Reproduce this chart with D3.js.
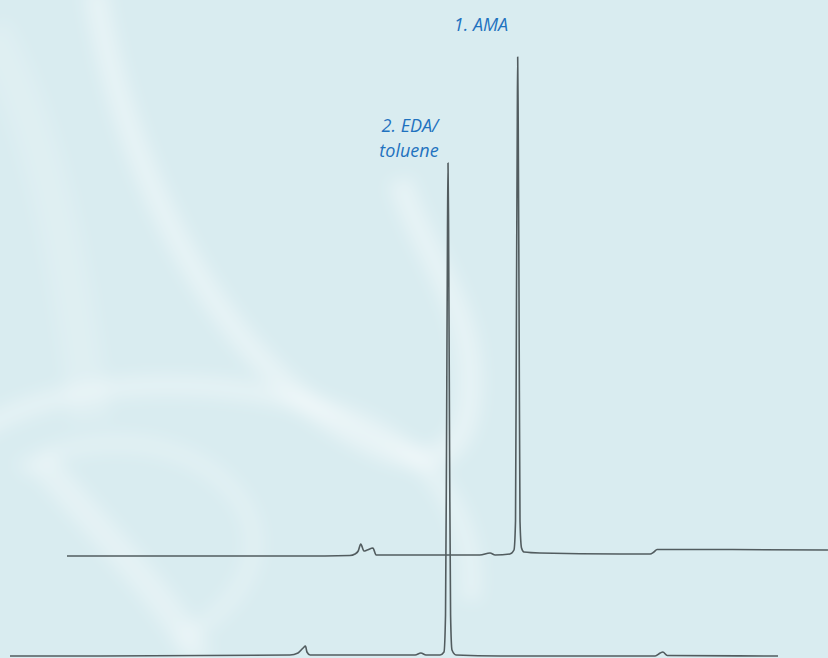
<!DOCTYPE html>
<html>
<head>
<meta charset="utf-8">
<script src="https://cdn.jsdelivr.net/npm/d3@7"></script>
<style>
  body { margin: 0; padding: 0; background: #d9ecf0; overflow: hidden; }
  .peak-label { font-family: "Open Sans", "Noto Sans", sans-serif; font-style: italic; font-size: 18px; fill: #1f72bf; }
</style>
</head>
<body>
<div id="chromatogram"></div>
<script>
// retention time (min) and signal for trace 1 (upper, AMA)
var time1 = [0.00, 3.64, 4.42, 4.50, 4.55, 4.59, 4.64, 4.69, 4.78, 4.83, 6.45, 6.61, 6.69, 6.92,
             6.984, 7.008, 7.023, 7.036, 7.042, 7.050, 7.063, 7.078, 7.102, 7.14, 7.39, 8.64, 9.11,
             9.17, 9.22, 9.89, 11.89];
var signal1 = [0, 0, 0.1, 0.4, 1.0, 2.4, 1.0, 1.2, 1.6, 0.2, 0.2, 0.6, 0.2, 0.4,
               1.2, 7, 51, 87, 99.8, 87, 51, 7, 1.6, 0.8, 0.6, 0.4, 0.4,
               0.8, 1.3, 1.3, 1.2];

// retention time (min) and signal for trace 2 (lower, EDA/toluene)
var time2 = [0.00, 1.41, 4.375, 4.50, 4.58, 4.617, 4.64, 4.69, 6.33, 6.42, 6.50, 6.72,
             6.781, 6.805, 6.820, 6.836, 6.844, 6.853, 6.869, 6.884, 6.906, 6.97, 7.66,
             10.08, 10.16, 10.20, 10.27, 12.0];
var signal2 = [-0.2, -0.2, 0, 0.4, 1.4, 1.8, 0.6, 0, 0, 0.4, 0, 0,
               0.6, 8, 40, 85, 98.4, 85, 40, 8, 1, 0, -0.2,
               -0.2, 0.4, 0.6, -0.1, -0.2];

// peak labels
var peakNames = ["1. AMA", "2. EDA/", "toluene"];

var width = 828, height = 658;

var svg = d3.select("#chromatogram")
  .append("svg")
    .attr("width", width)
    .attr("height", height);

// soft background with light swooshes
var defs = svg.append("defs");
defs.append("filter")
    .attr("id", "blur")
    .attr("x", "-20%").attr("y", "-20%")
    .attr("width", "140%").attr("height", "140%")
  .append("feGaussianBlur")
    .attr("stdDeviation", 8);

svg.append("rect")
    .attr("width", width)
    .attr("height", height)
    .attr("fill", "#d9ecf0");

var swoosh = svg.append("g").attr("filter", "url(#blur)").attr("fill", "none");
swoosh.append("path")
    .attr("d", "M95,-10 C120,150 200,330 330,420 C420,480 470,470 470,380 C470,300 420,250 400,180")
    .attr("stroke", "#ffffff").attr("stroke-opacity", 0.35).attr("stroke-width", 24);
swoosh.append("path")
    .attr("d", "M-20,430 C60,380 200,370 330,410 C430,440 480,520 470,600")
    .attr("stroke", "#ffffff").attr("stroke-opacity", 0.3).attr("stroke-width", 20);
swoosh.append("path")
    .attr("d", "M40,460 C90,520 170,600 200,660")
    .attr("stroke", "#ffffff").attr("stroke-opacity", 0.3).attr("stroke-width", 28);
swoosh.append("path")
    .attr("d", "M20,470 C80,430 190,430 240,500 C270,545 250,600 180,640")
    .attr("stroke", "#ffffff").attr("stroke-opacity", 0.22).attr("stroke-width", 18);
swoosh.append("path")
    .attr("d", "M-10,30 C40,120 70,250 90,420")
    .attr("stroke", "#ffffff").attr("stroke-opacity", 0.15).attr("stroke-width", 40);

// scales shared by both traces
var x = d3.scaleLinear()
  .domain([0, 12])
  .range([0, 768]);

var y = d3.scaleLinear()
  .domain([0, 100])
  .range([0, -500]);

var line = d3.line()
  .x(function(d) { return x(d[0]); })
  .y(function(d) { return y(d[1]); })
  .curve(d3.curveMonotoneX);

var trace1 = time1.map(function(t, i) { return [t, signal1[i]]; });
var trace2 = time2.map(function(t, i) { return [t, signal2[i]]; });

// upper trace, offset up and right
svg.append("g")
    .attr("transform", "translate(67,556)")
  .append("path")
    .datum(trace1)
    .attr("d", line)
    .attr("fill", "none")
    .attr("stroke", "#525c5f")
    .attr("stroke-width", 1.6)
    .attr("stroke-linejoin", "round");

// lower trace
svg.append("g")
    .attr("transform", "translate(10,655)")
  .append("path")
    .datum(trace2)
    .attr("d", line)
    .attr("fill", "none")
    .attr("stroke", "#525c5f")
    .attr("stroke-width", 1.6)
    .attr("stroke-linejoin", "round");

// peak labels
svg.append("text")
    .attr("class", "peak-label")
    .attr("x", 481)
    .attr("y", 31)
    .attr("text-anchor", "middle")
    .text(peakNames[0]);

svg.append("text")
    .attr("class", "peak-label")
    .attr("x", 410)
    .attr("y", 132)
    .attr("text-anchor", "middle")
    .text(peakNames[1]);

svg.append("text")
    .attr("class", "peak-label")
    .attr("x", 409)
    .attr("y", 157)
    .attr("text-anchor", "middle")
    .text(peakNames[2]);
</script>
</body>
</html>
